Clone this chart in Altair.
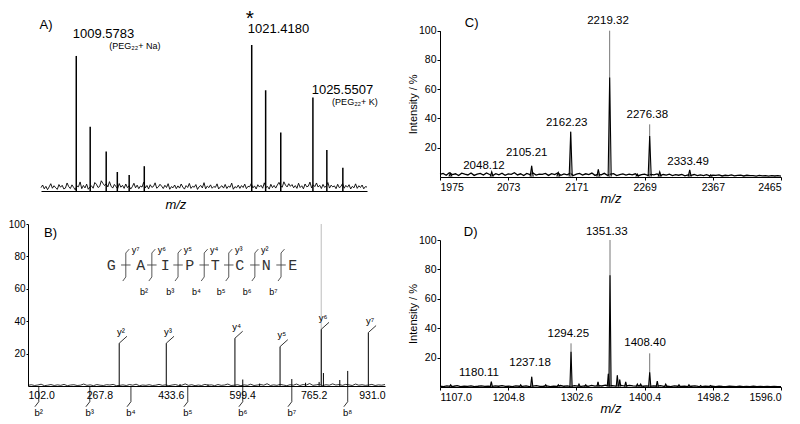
import numpy as np
import pandas as pd
import altair as alt

FONT = "Liberation Sans"
MONO = "Liberation Mono"

# ======================= Panel A (MS of PEG region) =======================
a_mz_range = [1007.2, 1029.2]
a_peak_mz = [1009.58, 1010.52, 1011.60, 1012.35, 1013.15, 1014.17,
             1021.42, 1022.36, 1023.38, 1025.55, 1026.49, 1027.57]
a_peak_int = [92.5, 44.0, 27.0, 13.0, 11.0, 17.0, 100.0, 69.0, 40.0, 64.0, 28.0, 16.0]
a_noise = [2.3, 4.1, 1.5, 3.2, 0.9, 2.8, 5.0, 1.9, 3.6, 2.2, 1.1, 4.4, 2.6, 3.9, 1.4, 2.0,
           5.5, 3.0, 1.7, 4.2, 2.5, 0.8, 3.4, 2.9, 6.2, 1.6, 3.8, 2.1, 4.7, 1.2, 2.7, 3.5,
           1.9, 5.8, 4.6, 2.4, 3.1, 7.0, 5.2, 3.7, 4.9, 2.8, 6.4, 3.3, 2.0, 4.5, 3.0, 1.5,
           5.1, 2.6, 3.9, 1.8, 4.8, 2.3, 3.6, 1.3, 2.9, 5.3, 2.2, 4.0, 1.6, 3.4, 2.7, 6.0,
           2.1, 3.8, 1.4, 4.3, 2.5, 3.1, 5.6, 1.9, 2.8, 4.6, 3.3, 1.7, 3.9, 2.4, 5.0, 1.2,
           3.0, 2.2, 4.1, 1.6, 3.5, 2.0, 4.8, 2.7, 1.3, 3.7, 2.4, 5.2, 1.8, 3.2, 2.6, 4.4,
           1.1, 2.9, 3.8, 2.1, 5.7, 1.5, 3.4, 2.3, 4.2, 1.9, 3.1, 2.5, 4.9, 1.4, 2.8, 3.6,
           2.0, 4.5, 1.7, 3.3, 2.6, 5.4, 1.2, 3.0, 2.2, 4.0, 1.8, 3.7, 2.4, 4.7, 1.6, 3.2,
           2.9, 5.1, 2.1, 3.5, 1.4, 4.3, 2.7, 3.9, 1.9, 5.6, 2.5, 3.1, 1.3, 4.6, 2.3, 3.8,
           2.0, 4.1, 5.9, 3.4, 2.6, 6.3, 4.0, 2.8, 5.0, 3.2, 4.4, 2.2, 3.7, 1.8, 5.3, 2.4,
           3.6, 1.5, 4.8, 2.9, 3.3, 6.1, 2.1, 4.2, 3.0, 5.5, 2.7, 3.9, 1.7, 4.5, 2.5, 3.4,
           5.8, 2.0, 4.0, 2.8, 3.5, 1.6, 4.6, 2.3, 3.1, 5.2, 1.9, 3.8, 2.6, 4.3, 1.4, 3.2,
           2.2, 4.9, 1.8, 3.6, 2.4, 4.1, 1.5, 3.0, 2.7]
a_label_text = ["1009.5783", "1021.4180", "1025.5507"]
a_label_mz = [1011.42, 1023.23, 1027.54]
a_label_int = [107.5, 111.0, 69.2]
a_note_text = ["(PEG\u2082\u2082+ Na)", "(PEG\u2082\u2082+ K)"]
a_note_mz = [1013.54, 1028.39]
a_note_int = [99.3, 61.0]
a_tag_text = ["A)"]
a_tag_mz = [1007.54]
a_tag_int = [113.7]
a_star_mz = [1021.3]
a_star_int = [125.3]
a_title_mz = [1016.3]
a_title_int = [-9.6]

# ======================= Panel B (MS/MS) =======================
b_mz_range = [102.0, 931.0]
b_ticks = [102.0, 267.8, 433.6, 599.4, 765.2, 931.0]
b_yion_text = ["y\u00b2", "y\u00b3", "y\u2074", "y\u2075", "y\u2076", "y\u2077"]
b_yion_mz = [313.8, 423.1, 582.5, 687.3, 783.0, 892.3]
b_yion_int = [26.4, 26.4, 29.5, 24.3, 35.0, 33.0]
b_full_mz = [783.0]
b_full_int = [100.0]
b_minor_mz = [455.0, 520.0, 600.7, 640.0, 714.6, 746.5, 778.0, 788.0, 826.0, 844.4]
b_minor_int = [1.2, 1.0, 4.0, 1.5, 4.3, 2.0, 2.5, 8.0, 3.7, 9.3]
b_noise = [0.4, 0.8, 0.3, 0.6, 1.1, 0.2, 0.5, 0.9, 0.3, 0.7, 0.4, 1.0, 0.2, 0.6, 0.8, 0.3,
           0.5, 1.2, 0.4, 0.7, 0.2, 0.9, 0.5, 0.3, 0.8, 0.6, 1.0, 0.2, 0.4, 0.7, 0.3, 0.9,
           0.5, 1.1, 0.2, 0.6, 0.4, 0.8, 0.3, 0.5, 1.0, 0.4, 0.7, 0.2, 0.6, 0.9, 0.3, 0.5,
           1.3, 0.4, 0.8, 0.2, 0.6, 0.3, 1.0, 0.5, 0.7, 0.2, 0.9, 0.4, 0.6, 1.2, 0.3, 0.5,
           0.8, 0.2, 0.7, 0.4, 1.1, 0.3, 0.6, 0.9, 0.5, 1.4, 0.3, 0.7, 0.4, 1.0, 0.6, 0.2,
           0.8, 0.5, 1.2, 0.3, 0.9, 0.6, 1.5, 0.4, 0.7, 1.1, 0.3, 0.8, 0.5, 1.3, 0.6, 0.9,
           0.4, 1.0, 0.7, 0.3, 1.2, 0.5, 0.8, 0.4, 0.6, 1.0, 0.3, 0.7, 0.5, 0.9]
b_bion_text = ["b\u00b2", "b\u00b3", "b\u2074", "b\u2075", "b\u2076", "b\u2077", "b\u2078"]
b_bion_mz = [127.0, 245.5, 341.0, 473.0, 600.7, 714.6, 844.4]
seq_letters = ["G", "A", "I", "P", "T", "C", "N", "E"]
seq_mz = [295.6, 363.9, 420.8, 477.8, 537.0, 594.0, 655.5, 717.0]
seq_level = 74.7
seq_cut_mz = [329.1, 389.6, 450.4, 511.2, 568.2, 628.8, 689.6]
seq_y_text = ["y\u2077", "y\u2076", "y\u2075", "y\u2074", "y\u00b3", "y\u00b2"]   # cuts 1..6
seq_b_text = ["b\u00b2", "b\u00b3", "b\u2074", "b\u2075", "b\u2076", "b\u2077"]   # cuts 2..7
b_tag_text = ["B)"]
b_tag_mz = [154.4]
b_tag_int = [94.4]

# ======================= Panel C =======================
c_mz_range = [1975.0, 2465.0]
c_ticks = [1975, 2073, 2171, 2269, 2367, 2465]
c_peak_mz = [1990.0, 2049.3, 2106.7, 2145.0, 2162.8, 2202.5, 2218.8, 2258.5, 2276.3, 2290.7, 2333.8, 2364.0]
c_peak_top = [2.5, 3.6, 7.7, 3.0, 31.0, 5.2, 100.0, 2.0, 36.0, 3.5, 4.8, 1.5]
c_peak_core = [2.5, 3.6, 7.7, 3.0, 31.0, 5.2, 68.0, 2.0, 28.0, 3.5, 4.8, 1.5]
c_noise = [1.8, 2.4, 1.2, 2.9, 1.6, 2.2, 1.0, 2.6, 1.9, 1.4, 2.7, 1.1, 2.0, 2.5, 1.3, 2.8,
           1.7, 1.0, 2.3, 1.5, 2.6, 1.2, 2.1, 1.8, 2.9, 1.4, 2.2, 1.0, 2.4, 1.6, 2.7, 1.3,
           2.0, 1.8, 2.5, 1.1, 2.3, 1.6, 2.8, 1.2, 2.1, 1.5, 2.6, 1.0, 1.9, 2.4, 1.3, 2.2,
           1.7, 2.7, 1.1, 2.0, 1.5, 2.5, 1.2, 1.9, 2.3, 1.0, 1.7, 2.1, 1.3, 1.9, 1.5, 2.2,
           0.9, 1.6, 2.0, 1.2, 1.8, 1.4, 2.1, 0.9, 1.7, 1.3, 1.9, 1.0, 1.6, 1.2, 1.8, 0.8,
           1.5, 1.1, 1.7, 0.9, 1.4, 1.0, 1.6, 0.8, 1.3, 1.1, 1.5, 0.7, 1.2, 0.9, 1.4, 0.8,
           1.1, 1.3, 0.7, 1.2, 0.9, 1.0, 0.6, 1.1, 0.8, 1.0, 0.6, 0.9, 0.7, 1.0, 0.6]
c_label_text = ["2048.12", "2105.21", "2162.23", "2219.32", "2276.38", "2333.49"]
c_label_mz = [2038.2, 2099.6, 2157.1, 2216.4, 2272.9, 2331.4]
c_label_int = [7.7, 16.2, 36.7, 106.8, 42.4, 10.5]
c_tag_text = ["C)"]
c_tag_mz = [2020.6]
c_tag_int = [105.0]

# ======================= Panel D =======================
d_mz_range = [1107.0, 1596.0]
d_ticks = [1107.0, 1204.8, 1302.6, 1400.4, 1498.2, 1596.0]
d_peak_mz = [1122.3, 1180.6, 1222.7, 1238.5, 1258.6, 1276.7, 1294.9, 1306.3, 1316.0, 1333.6,
             1348.4, 1350.8, 1361.3, 1364.7, 1373.3, 1390.0, 1394.8, 1407.7, 1418.6, 1430.7,
             1449.7, 1464.0, 1480.8, 1495.0]
d_peak_top = [1.5, 3.6, 1.5, 7.0, 1.5, 1.5, 29.7, 2.0, 1.5, 3.5,
              9.0, 100.0, 8.0, 5.0, 3.5, 2.0, 2.0, 22.9, 4.0, 2.0,
              1.5, 1.5, 1.0, 1.0]
d_peak_core = [1.5, 3.6, 1.5, 7.0, 1.5, 1.5, 24.0, 2.0, 1.5, 3.5,
               9.0, 76.0, 8.0, 5.0, 3.5, 2.0, 2.0, 10.0, 4.0, 2.0,
               1.5, 1.5, 1.0, 1.0]
d_noise = [0.6, 0.3, 0.8, 0.4, 0.5, 0.9, 0.3, 0.6, 0.4, 0.7, 0.3, 0.5, 0.8, 0.4, 0.6, 0.3,
           0.7, 0.5, 0.9, 0.4, 0.6, 0.3, 0.8, 0.5, 0.4, 0.7, 0.3, 0.6, 0.9, 0.4, 0.5, 0.8,
           0.3, 0.6, 0.4, 1.0, 0.5, 0.7, 0.3, 0.9, 0.6, 0.4, 0.8, 0.5, 1.1, 0.6, 0.9, 0.7,
           1.2, 0.8, 1.0, 0.6, 1.3, 0.9, 0.7, 1.1, 0.8, 0.6, 1.0, 0.5, 0.8, 0.4, 0.7, 0.5,
           0.9, 0.4, 0.6, 0.3, 0.7, 0.5, 0.4, 0.6, 0.3, 0.5, 0.7, 0.4, 0.3, 0.6, 0.4, 0.5,
           0.3, 0.6, 0.4, 0.3, 0.5, 0.4, 0.3, 0.5, 0.3, 0.4, 0.3, 0.5, 0.3, 0.4, 0.2, 0.4,
           0.3, 0.4, 0.2, 0.3]
d_label_text = ["1180.11", "1237.18", "1294.25", "1351.33", "1408.40"]
d_label_mz = [1162.9, 1236.1, 1291.0, 1346.1, 1401.0]
d_label_int = [9.3, 16.5, 35.9, 105.2, 30.1]
d_tag_text = ["D)"]
d_tag_mz = [1151.0]
d_tag_int = [105.6]

# ======================= layout / style =======================
W_LEFT, W_RIGHT = 357, 341
H_A, H_C, H_B, H_D = 183, 169, 162, 163


def xenc(domain, axis, rng=None):
    sc = alt.Scale(domain=domain, nice=False, zero=False) if rng is None else \
        alt.Scale(domain=domain, nice=False, zero=False, range=rng)
    return alt.X("mz:Q", scale=sc, axis=axis)


def yenc(rng, axis):
    return alt.Y("int:Q", scale=alt.Scale(domain=[0, 100], nice=False, range=rng), axis=axis)


def noise_df(rng, vals):
    return pd.DataFrame({"mz": np.linspace(rng[0], rng[1], len(vals)), "int": vals})


def text_layer(texts, mzs, ints, X, Y, size, font=FONT, style="normal", color="black", baseline="middle"):
    df = pd.DataFrame({"mz": mzs, "int": ints, "t": texts})
    return alt.Chart(df).mark_text(font=font, fontSize=size, fontStyle=style, color=color,
                                   align="center", baseline=baseline).encode(x=X, y=Y, text="t:N")


def seg_layer(rows, X, Y, color="black", width=1.0):
    df = pd.DataFrame(rows, columns=["mz", "mz2", "int", "int2"])
    return alt.Chart(df).mark_rule(color=color, strokeWidth=width).encode(
        x=X, x2="mz2:Q", y=Y, y2="int2:Q")


def peak_triangles(mzs, cores, half):
    rows = []
    for i, (m, h) in enumerate(zip(mzs, cores)):
        rows += [(i, m - half, 0.3), (i, m, h), (i, m + half, 0.3)]
    return pd.DataFrame(rows, columns=["pid", "mz", "int"])


axis_common = dict(domainColor="black", tickColor="black", labelColor="black",
                   titleColor="black", grid=False, labelFont=FONT, titleFont=FONT)

# ---------------- Panel A ----------------
XA = xenc(a_mz_range, alt.Axis(labels=False, ticks=False, title=None, domainColor="black", grid=False),
          rng=[13, 339])
YA = yenc([H_A, 37], None)
a_peaks = pd.DataFrame({"mz": a_peak_mz, "int": a_peak_int, "base": [0.0] * len(a_peak_mz)})
panelA = alt.layer(
    alt.Chart(noise_df(a_mz_range, a_noise)).mark_line(color="black", strokeWidth=0.9).encode(x=XA, y=YA),
    alt.Chart(a_peaks).mark_rule(color="black", strokeWidth=1.5).encode(x=XA, y=YA, y2="base:Q"),
    text_layer(a_label_text, a_label_mz, a_label_int, XA, YA, 13),
    text_layer(a_note_text, a_note_mz, a_note_int, XA, YA, 9),
    text_layer(a_tag_text, a_tag_mz, a_tag_int, XA, YA, 13),
    text_layer(["*"], a_star_mz, a_star_int, XA, YA, 21, baseline="top"),
    text_layer(["m/z"], a_title_mz, a_title_int, XA, YA, 13, style="italic"),
).properties(width=W_LEFT, height=H_A)

# ---------------- Panel B ----------------
XB = xenc(b_mz_range, alt.Axis(values=b_ticks, format=".1f", ticks=False, labelPadding=4,
                               labelFontSize=10.5, title=None, **axis_common))
YB = yenc([H_B, 0], alt.Axis(values=[20, 40, 60, 80, 100], tickSize=2, labelPadding=1,
                             labelFontSize=10, title=None, **axis_common))
b_main = pd.DataFrame({"mz": b_yion_mz + b_minor_mz,
                       "int": b_yion_int + b_minor_int,
                       "base": [0.0] * (len(b_yion_mz) + len(b_minor_mz))})
b_full = pd.DataFrame({"mz": b_full_mz, "int": b_full_int, "base": [0.0]})
hooks = [(m, m + 18, h, h + 4.3) for m, h in zip(b_yion_mz, b_yion_int)]
bbr = []
for m in b_bion_mz:
    bbr.append((m, m, 0.0, -9.7))
    bbr.append((m, m - 9, -9.7, -12.8))
seqsegs = []
for c in seq_cut_mz:
    seqsegs.append((c, c, 67.3, 82.1))
    seqsegs.append((c - 11, c + 11, seq_level, seq_level))
    seqsegs.append((c, c + 8, 82.1, 84.5))
    seqsegs.append((c, c - 7, 67.3, 64.8))
panelB = alt.layer(
    alt.Chart(noise_df(b_mz_range, b_noise)).mark_line(color="black", strokeWidth=0.8).encode(x=XB, y=YB),
    alt.Chart(b_full).mark_rule(color="#c8c8c8", strokeWidth=1.2).encode(x=XB, y=YB, y2="base:Q"),
    alt.Chart(b_main).mark_rule(color="black", strokeWidth=1.0).encode(x=XB, y=YB, y2="base:Q"),
    seg_layer(hooks, XB, YB, width=0.8),
    seg_layer(bbr, XB, YB, width=0.8),
    seg_layer(seqsegs, XB, YB, color="#444", width=0.9),
    text_layer(b_yion_text, [m + 4 for m in b_yion_mz], [h + 7 for h in b_yion_int], XB, YB, 9.5),
    text_layer(b_bion_text, b_bion_mz, [-16.7] * len(b_bion_mz), XB, YB, 9.5),
    text_layer(seq_letters, seq_mz, [seq_level] * len(seq_mz), XB, YB, 15, font=MONO, color="#333"),
    text_layer(seq_y_text, [c + 23 for c in seq_cut_mz[:6]], [84.0] * 6, XB, YB, 9),
    text_layer(seq_b_text, [c - 18 for c in seq_cut_mz[1:]], [58.2] * 6, XB, YB, 9),
    text_layer(b_tag_text, b_tag_mz, b_tag_int, XB, YB, 13),
).properties(width=W_LEFT, height=H_B)


# ---------------- Panels C and D ----------------
def ms_panel(rng, ticks, fmt, noise, pmz, ptop, pcore, ltext, lmz, lint, tag, tmz, tint, h, ytop, half):
    X = xenc(rng, alt.Axis(values=ticks, format=fmt, tickSize=3, labelPadding=2, labelFontSize=10.5,
                           title="m/z", titleFontStyle="italic", titleFontSize=13,
                           titleFontWeight="normal", titlePadding=0, **axis_common))
    Y = yenc([h, ytop], alt.Axis(values=[20, 40, 60, 80, 100], tickSize=3, labelPadding=1,
                                 labelFontSize=10.5, title="Intensity / %", titleFontSize=11,
                                 titleFontWeight="normal", titlePadding=0, **axis_common))
    full = pd.DataFrame({"mz": pmz, "int": ptop, "base": [0.0] * len(pmz)})
    return alt.layer(
        alt.Chart(noise_df(rng, noise)).mark_line(color="black", strokeWidth=1.3).encode(x=X, y=Y),
        alt.Chart(full).mark_rule(color="#777", strokeWidth=1.0).encode(x=X, y=Y, y2="base:Q"),
        alt.Chart(peak_triangles(pmz, pcore, half)).mark_line(color="black", strokeWidth=1.1).encode(
            x=X, y=Y, detail="pid:N"),
        text_layer(ltext, lmz, lint, X, Y, 11.5),
        text_layer(tag, tmz, tint, X, Y, 13),
    ).properties(width=W_RIGHT, height=h)


panelC = ms_panel(c_mz_range, c_ticks, "d", c_noise, c_peak_mz, c_peak_top, c_peak_core,
                  c_label_text, c_label_mz, c_label_int, c_tag_text, c_tag_mz, c_tag_int,
                  H_C, 22.7, 2.2)
panelD = ms_panel(d_mz_range, d_ticks, ".1f", d_noise, d_peak_mz, d_peak_top, d_peak_core,
                  d_label_text, d_label_mz, d_label_int, d_tag_text, d_tag_mz, d_tag_int,
                  H_D, 16, 1.6)

chart = alt.concat(panelA, panelC, panelB, panelD, columns=2,
                   spacing={"row": 33, "column": 55}, bounds="flush").properties(
    padding={"left": 0, "top": 0, "right": 0, "bottom": 0}
).configure(font=FONT).configure_view(stroke=None)

chart.save("out.html", embed_options={"renderer": "svg", "actions": False})
